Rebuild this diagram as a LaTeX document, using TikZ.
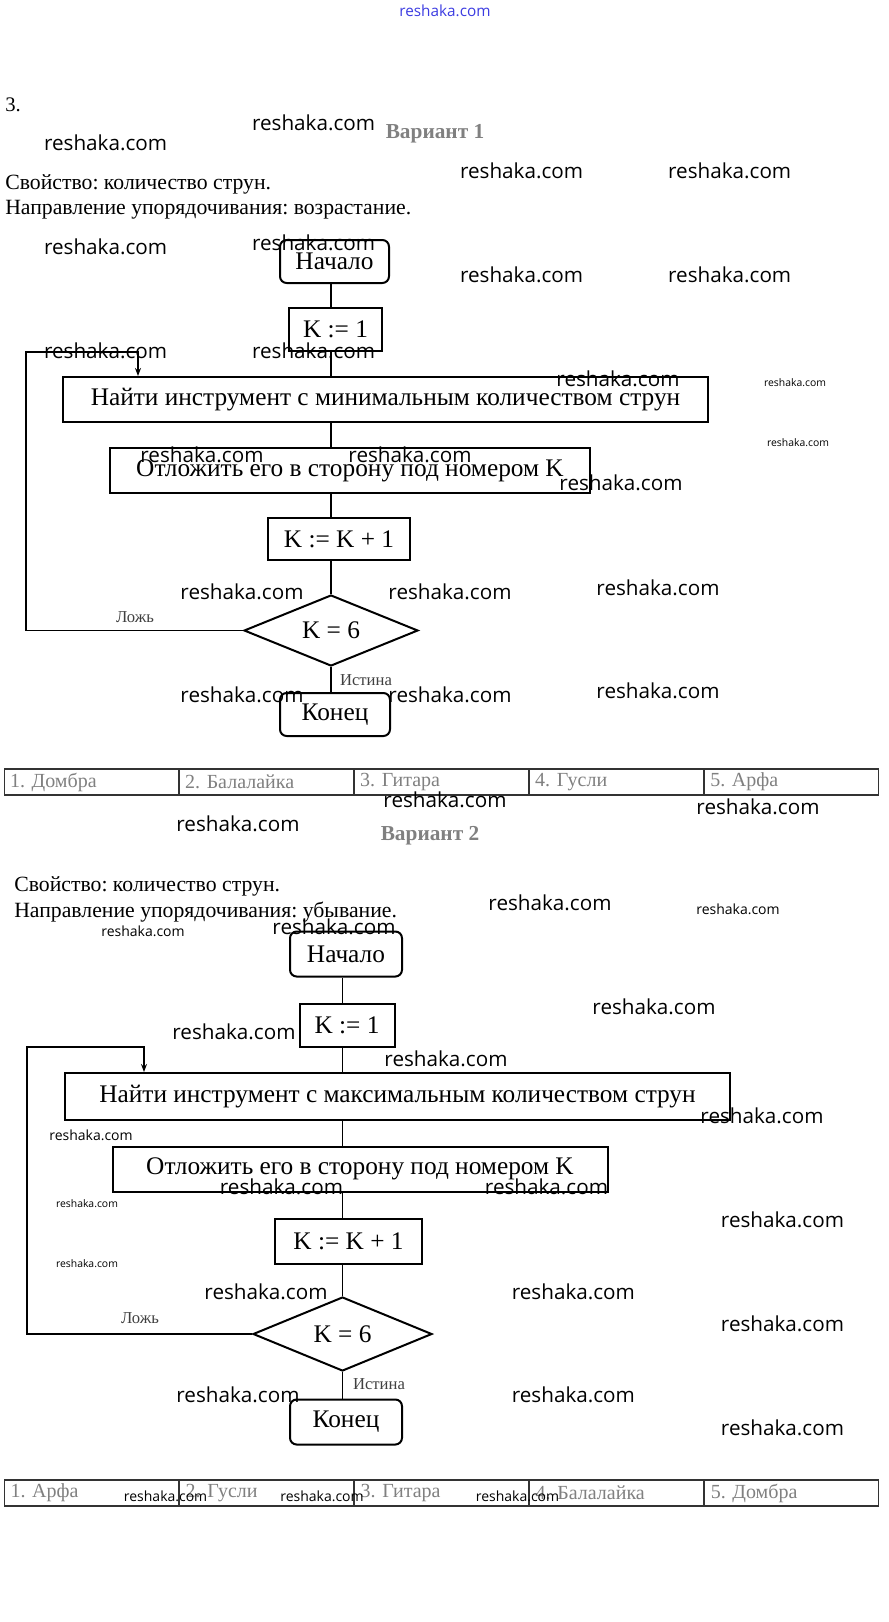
\documentclass[tikz,border=0pt]{standalone}
\usepackage{fontspec}
\setmainfont{Liberation Serif}
\newfontfamily\wmfont{Open Sans}
\usetikzlibrary{arrows.meta,positioning,shapes.geometric}
\frenchspacing

\definecolor{fade}{gray}{0.5}
\definecolor{wmblue}{RGB}{60,60,225}

\tikzset{
  px/.style 2 args={minimum width=#1*0.75pt, minimum height=#2*0.75pt},
  term/.style={draw, line width=1.5pt, rounded corners=5pt, inner sep=0pt,
    font=\fontsize{19}{22}\selectfont},
  proc/.style={draw, line width=1.5pt, inner sep=0pt,
    font=\fontsize{19}{22}\selectfont},
  test/.style={draw, diamond, aspect=2.5, line width=1.5pt, inner sep=0pt,
    font=\fontsize{19}{22}\selectfont},
  flow/.style={line width=1.3pt},
  note/.style={inner sep=0pt, font=\fontsize{12.5}{14}\selectfont, text=black!75},
  head/.style={inner sep=0pt, anchor=west, font=\fontsize{16.3}{19}\selectfont},
  cell/.style={draw=black!80, line width=0.8pt, inner xsep=4.5pt, inner ysep=0pt,
    text width=162*0.75pt, align=left, minimum height=26*0.75pt, anchor=west,
    font=\fontsize{15}{17}\selectfont, text=fade},
  wm/.style={inner sep=0pt, font=\wmfont\fontsize{15.5}{18}\selectfont},
  wmm/.style={inner sep=0pt, font=\wmfont\fontsize{10.5}{12}\selectfont},
  wms/.style={inner sep=0pt, font=\wmfont\fontsize{7.8}{9}\selectfont},
}

\begin{document}
\begin{tikzpicture}[x=0.75pt, y=-0.75pt, >={Stealth[length=6pt,width=4.5pt]}]
  \useasboundingbox (0,0) rectangle (889,1622);

  % header
  \node[inner sep=0pt, text=wmblue, font=\wmfont\fontsize{11.5}{13}\selectfont] (site) at (445,11) {reshaka.com};
  \node[inner sep=0pt, anchor=west, font=\fontsize{15.5}{18}\selectfont] (num) at (5,105) {3.};

  % Variant 1
  \node[inner sep=0pt, text=fade, font=\bfseries\fontsize{16}{18}\selectfont] (var1) at (435,134) {Вариант 1};
  \node[head] (prop1) at (5,184) {Свойство: количество струн.};
  \node[head] (dir1) at (5,210) {Направление упорядочивания: возрастание.};

  \coordinate (axis1) at (331,0);
  \node[term, px={109}{43}] (start1) at (334.5,261.5) {Начало};
  \node[proc, px={93}{43}] (init1) at (335.5,329.5) {K := 1};
  \node[proc, px={645}{45}] (find1) at (385.5,399.5) {Найти инструмент с минимальным количеством струн};
  \node[proc, px={480}{45}] (put1) at (350,470.5) {Отложить его в сторону под номером K};
  \node[proc, px={142}{42}] (inc1) at (339,539) {K := K + 1};
  \node[test, px={174}{71}] (cond1) at (331,630.5) {K = 6};
  \node[term, px={110}{43}] (end1) at (335,714.5) {Конец};

  \draw[flow] (start1.south -| axis1) -- (init1.north -| axis1);
  \draw[flow] (init1.south -| axis1) -- (find1.north -| axis1);
  \draw[flow] (find1.south -| axis1) -- (put1.north -| axis1);
  \draw[flow] (put1.south -| axis1) -- (inc1.north -| axis1);
  \draw[flow] (inc1.south -| axis1) -- (cond1.north);
  \draw[flow] (cond1.south) -- (end1.north -| axis1);

  \coordinate (loop1) at (26,352);
  \coordinate (back1) at (138,352);
  \draw[flow, ->] (cond1.west) -| (loop1) -- (back1) -- (back1 |- find1.north);
  \node[note] (no1) at (135,617) {Ложь};
  \node[note] (yes1) at (366,680) {Истина};

  \node[cell] (c11) at (3.5,782) {1. Домбра};
  \node[cell, right=0pt of c11] (c12) {2. Балалайка};
  \node[cell, right=0pt of c12] (c13) {3. Гитара};
  \node[cell, right=0pt of c13] (c14) {4. Гусли};
  \node[cell, right=0pt of c14] (c15) {5. Арфа};

  % Variant 2
  \node[inner sep=0pt, text=fade, font=\bfseries\fontsize{16}{18}\selectfont] (var2) at (430,836) {Вариант 2};
  \node[head] (prop2) at (14,886) {Свойство: количество струн.};
  \node[head] (dir2) at (14,912) {Направление упорядочивания: убывание.};

  \coordinate (axis2) at (342.5,0);
  \node[term, px={112}{45}] (start2) at (346,954) {Начало};
  \node[proc, px={95}{43}] (init2) at (347,1025) {K := 1};
  \node[proc, px={665}{47}] (find2) at (397.5,1096.5) {Найти инструмент с максимальным количеством струн};
  \node[proc, px={495}{45}] (put2) at (360,1169) {Отложить его в сторону под номером K};
  \node[proc, px={147}{45}] (inc2) at (348.5,1241.5) {K := K + 1};
  \node[test, px={179}{74}] (cond2) at (342.5,1334) {K = 6};
  \node[term, px={112}{45}] (end2) at (346,1422) {Конец};

  \draw[flow] (start2.south -| axis2) -- (init2.north -| axis2);
  \draw[flow] (init2.south -| axis2) -- (find2.north -| axis2);
  \draw[flow] (find2.south -| axis2) -- (put2.north -| axis2);
  \draw[flow] (put2.south -| axis2) -- (inc2.north -| axis2);
  \draw[flow] (inc2.south -| axis2) -- (cond2.north);
  \draw[flow] (cond2.south) -- (end2.north -| axis2);

  \coordinate (loop2) at (27,1047);
  \coordinate (back2) at (144,1047);
  \draw[flow, ->] (cond2.west) -| (loop2) -- (back2) -- (back2 |- find2.north);
  \node[note] (no2) at (140,1318) {Ложь};
  \node[note] (yes2) at (379,1384) {Истина};

  \node[cell] (c21) at (4,1493) {1. Арфа};
  \node[cell, right=0pt of c21] (c22) {2. Гусли};
  \node[cell, right=0pt of c22] (c23) {3. Гитара};
  \node[cell, right=0pt of c23] (c24) {4. Балалайка};
  \node[cell, right=0pt of c24] (c25) {5. Домбра};

  % watermarks
  \node[wm] (w1) at (313.6,123) {reshaka.com};
  \node[wm] (w2) at (105.6,143) {reshaka.com};
  \node[wm] (w3) at (521.6,171) {reshaka.com};
  \node[wm] (w4) at (729.7,171) {reshaka.com};
  \node[wm] (w5) at (105.6,247) {reshaka.com};
  \node[wm] (w6) at (313.6,243) {reshaka.com};
  \node[wm] (w7) at (521.6,275) {reshaka.com};
  \node[wm] (w8) at (729.7,275) {reshaka.com};
  \node[wm] (w9) at (105.6,351) {reshaka.com};
  \node[wm] (w10) at (313.6,351) {reshaka.com};
  \node[wm] (w11) at (618,379) {reshaka.com};
  \node[wms] (w12) at (795,383) {reshaka.com};
  \node[wms] (w13) at (798,443) {reshaka.com};
  \node[wm] (w14) at (202,455) {reshaka.com};
  \node[wm] (w15) at (410,455) {reshaka.com};
  \node[wm] (w16) at (621,483) {reshaka.com};
  \node[wm] (w17) at (242,592) {reshaka.com};
  \node[wm] (w18) at (450,592) {reshaka.com};
  \node[wm] (w19) at (658,588) {reshaka.com};
  \node[wm] (w20) at (242,695) {reshaka.com};
  \node[wm] (w21) at (450,695) {reshaka.com};
  \node[wm] (w22) at (658,691) {reshaka.com};
  \node[wm] (w23) at (445,800) {reshaka.com};
  \node[wm] (w24) at (758,807) {reshaka.com};
  \node[wm] (w25) at (238,824) {reshaka.com};
  \node[wm] (w26) at (550,903) {reshaka.com};
  \node[wmm] (w27) at (738,909) {reshaka.com};
  \node[wmm] (w28) at (143,931) {reshaka.com};
  \node[wm] (w29) at (334,927) {reshaka.com};
  \node[wm] (w30) at (654,1007) {reshaka.com};
  \node[wm] (w31) at (234,1032) {reshaka.com};
  \node[wm] (w32) at (446,1059) {reshaka.com};
  \node[wm] (w33) at (762,1116) {reshaka.com};
  \node[wmm] (w34) at (91,1135) {reshaka.com};
  \node[wm] (w35) at (281.5,1187) {reshaka.com};
  \node[wm] (w36) at (546.5,1187) {reshaka.com};
  \node[wms] (w37) at (87,1204) {reshaka.com};
  \node[wm] (w38) at (782.5,1220) {reshaka.com};
  \node[wms] (w39) at (87,1264) {reshaka.com};
  \node[wm] (w40) at (266,1292) {reshaka.com};
  \node[wm] (w41) at (573.4,1292) {reshaka.com};
  \node[wm] (w42) at (782.5,1324) {reshaka.com};
  \node[wm] (w43) at (238,1395) {reshaka.com};
  \node[wm] (w44) at (573.4,1395) {reshaka.com};
  \node[wm] (w45) at (782.5,1428) {reshaka.com};
  \node[wmm] (w46) at (165.6,1496) {reshaka.com};
  \node[wmm] (w47) at (322,1496) {reshaka.com};
  \node[wmm] (w48) at (517.5,1496) {reshaka.com};
\end{tikzpicture}
\end{document}
